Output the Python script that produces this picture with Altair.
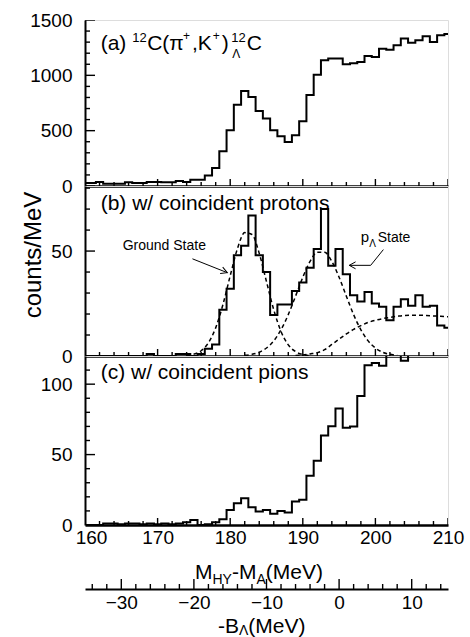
import math
import altair as alt
import pandas as pd

FONT = "Liberation Sans"
W = 363
HA, HB, HC = 166, 170, 169
X0 = 84.3
TOP_A, TOP_B, TOP_C = 18, 184, 354

# ---------------- data ----------------
M = list(range(160, 211))  # bin centres, 1 MeV bins

COUNTS_INCL = [27, 27, 36, 21, 21, 21, 33, 27, 27, 36,
               36, 33, 33, 45, 36, 57, 57, 96, 163, 313,
               503, 735, 859, 805, 678, 609, 503, 449, 398, 458,
               585, 823, 1006, 1136, 1151, 1151, 1100, 1109, 1121, 1175,
               1166, 1241, 1232, 1272, 1332, 1295, 1317, 1353, 1302, 1362,
               1374]

COUNTS_PROTON = [0, 0, 0, 0, 0, 0, 0, 0, 0, 1,
                 0, 0, 0, 1, 1, 0, 1, 3.5, 5.5, 22,
                 32, 48, 52.5, 67, 48, 40, 19.5, 24.5, 24.5, 31,
                 35, 42, 51, 70, 43, 51, 39, 29, 26, 30.5,
                 25, 23.5, 17, 23.5, 27, 24, 29, 23.5, 24, 14.5,
                 13.5]

COUNTS_PION = [0, 0, 0, 1, 1, 0.5, 1, 1, 0.5, 1,
               0.5, 1, 0.5, 1, 2, 3.5, 0, 0.5, 2, 4,
               10.7, 15.4, 19, 12.6, 9.5, 10.7, 7.9, 10, 8.8, 16.6,
               17.9, 35, 45.7, 63.6, 70.2, 82.7, 69, 70, 91.6, 113.5,
               115, 113, 123, 122, 116.6, 125, 127, 128, 130, 132,
               134]

GS_M = list(range(174, 192))
GS_FIT = [0.3, 0.9, 2.5, 6.3, 13.4, 24.5, 38.2, 51.2, 58.8, 57.9,
          48.9, 35.4, 22.0, 11.7, 5.3, 2.1, 0.7, 0.2]
PL_M = list(range(182, 204))
PL_FIT = [0.3, 0.8, 1.8, 3.8, 7.2, 12.5, 19.7, 28.5, 37.5, 45.1,
          49.4, 49.4, 45.1, 37.5, 28.5, 19.7, 12.5, 7.2, 3.8, 1.8, 0.8, 0.3]
BG_M = list(range(189, 211))
BG_FIT = [0.2, 0.5, 1.0, 1.6, 3.0, 5.5, 8.0, 10.5, 12.7, 14.5, 16.0,
          17.0, 17.8, 18.4, 18.9, 19.3, 19.4, 19.4, 19.3, 19.1, 18.9, 18.7]

GS_ARROW_M = [174.8, 179.6]
GS_ARROW_C = [46.3, 39.7]
PL_ARROW_M = [201.1, 199.35, 196.4]
PL_ARROW_C = [50.7, 43.2, 43.2]

X_MAJOR = [160, 170, 180, 190, 200, 210]
X_MINOR = [v for v in range(162, 210, 2) if v % 10 != 0]
A_LABELS = [0, 500, 1000, 1500]
A_MINOR = [v for v in range(100, 1500, 100) if v % 500 != 0]
B_LABELS = [0, 50]
B_MINOR = [10, 20, 30, 40, 60, 70, 80]
C_LABELS = [0, 50, 100]
C_MINOR = [10, 20, 30, 40, 60, 70, 80, 90, 110]
SEC_MAJOR = [-30, -20, -10, 0, 10]
SEC_MINOR = [v for v in range(-34, 15, 2) if v % 10 != 0]

# ---------------- helpers ----------------
WID = {' ': 278, '(': 333, ')': 333, '+': 584, ',': 278, '-': 333, '/': 278,
       'A': 667, 'B': 667, 'C': 722, 'G': 778, 'H': 722, 'K': 667, 'M': 833,
       'S': 667, 'V': 667, 'Y': 667, 'a': 556, 'b': 556, 'c': 500, 'd': 556,
       'e': 556, 'i': 222, 'n': 556, 'o': 556, 'p': 556, 'r': 333, 's': 500,
       't': 278, 'u': 556, 'w': 722, 'π': 578, 'Λ': 667}


def width(s, size):
    return sum(WID.get(ch, 556) for ch in s) * size / 1000.0


def txt(s, x, y, size, angle=0, align="left", baseline="alphabetic"):
    return alt.Chart(pd.DataFrame({"t": [s]})).mark_text(
        align=align, baseline=baseline, fontSize=size, font=FONT,
        color="black", angle=angle
    ).encode(x=alt.value(x), y=alt.value(y), text="t:N")


def rich(pieces, x, y, gap=0.0):
    out = []
    for s, size, dy in pieces:
        out.append(txt(s, x, y + dy, size))
        x += width(s, size) + gap
    return out


XMIN, XMAX = 160, 210
XSCALE = alt.Scale(domain=[XMIN, XMAX], nice=False, zero=False)


def yaxis(vals):
    return alt.Axis(values=vals, format="d", labelFontSize=19, labelFont=FONT,
                    labelColor="black", ticks=False, domain=True,
                    domainColor="black", domainWidth=2, labelPadding=13,
                    grid=False, title=None)


hidden_x = alt.Axis(labels=False, ticks=False, domain=True, domainColor="black",
                    domainWidth=2.5, grid=False, title=None)
shown_x = alt.Axis(values=X_MAJOR, labelFontSize=19, labelFont=FONT,
                   labelColor="black", ticks=False, domain=True,
                   domainColor="black", domainWidth=2.5, labelPadding=3,
                   labelFlush=False,
                   labelOffset={"condition": {"test": "datum.value === 160", "value": 6},
                                "value": 0},
                   grid=False, title=None)


class Panel:
    def __init__(self, ymax, H, yvals, xax):
        self.ymax = ymax
        self.H = H
        self.ysc = alt.Scale(domain=[0, ymax], nice=False, zero=False)
        self.yax = yaxis(yvals)
        self.xax = xax

    def X(self, f="m"):
        return alt.X(f + ":Q", scale=XSCALE, axis=self.xax)

    def Y(self, f="c"):
        return alt.Y(f + ":Q", scale=self.ysc, axis=self.yax)

    def hist(self, values, ymajor, yminor):
        # histogram steps + inward frame ticks (short segments, lengths in px)
        rows = [{"m": m, "c": v, "s": "hist", "w": 2.0} for m, v in zip(M, values)]
        k = 0
        for vals, length in ((X_MAJOR, 7), (X_MINOR, 4)):
            for v in vals:
                rows.append({"m": v, "c": 0, "s": "t%d" % k, "w": 1.4})
                rows.append({"m": v, "c": length * self.ymax / self.H,
                             "s": "t%d" % k, "w": 1.4})
                k += 1
        for vals, length in ((ymajor, 10), (yminor, 5)):
            for v in vals:
                rows.append({"m": XMIN, "c": v, "s": "t%d" % k, "w": 1.4})
                rows.append({"m": XMIN + length * (XMAX - XMIN) / W, "c": v,
                             "s": "t%d" % k, "w": 1.4})
                k += 1
        df = pd.DataFrame(rows)
        return alt.Chart(df).mark_line(
            interpolate="step", color="black", clip=True
        ).encode(x=self.X(), y=self.Y(), detail="s:N",
                 strokeWidth=alt.StrokeWidth("w:Q", scale=None, legend=None))


# ---------------- panel (a) ----------------
pa = Panel(1500, HA, A_LABELS, hidden_x)
ya = TOP_A
a_txt = []
cur = 100 - X0
a_txt.append(txt("(a)", cur, 48 - ya, 21)); cur += width("(a) ", 21)
a_txt.append(txt("12", cur, 40 - ya, 13)); cur += width("12", 13) + 0.5
a_txt.append(txt("C(π", cur, 48 - ya, 21)); cur += width("C(π", 21) + 1.5
a_txt.append(txt("+", cur, 38 - ya, 12)); cur += width("+", 12) + 2
a_txt.append(txt(",K", cur, 48 - ya, 21)); cur += width(",K", 21) + 1
a_txt.append(txt("+", cur, 38 - ya, 12)); cur += width("+", 12) + 2
a_txt.append(txt(")", cur, 48 - ya, 21)); cur += width(")", 21) + 2.5
a_txt.append(txt("12", cur, 40 - ya, 13))
a_txt.append(txt("Λ", cur + 1, 56 - ya, 12)); cur += width("12", 13) + 1
a_txt.append(txt("C", cur, 48 - ya, 21))

panel_a = alt.layer(
    pa.hist(COUNTS_INCL, A_LABELS, A_MINOR),
    *a_txt,
).properties(width=W, height=HA)

# ---------------- panel (b) ----------------
pb = Panel(81, HB, B_LABELS, hidden_x)
fits = pd.DataFrame({
    "m": GS_M + PL_M + BG_M,
    "c": GS_FIT + PL_FIT + BG_FIT,
    "k": ["gs"] * len(GS_M) + ["pl"] * len(PL_M) + ["bg"] * len(BG_M),
})
dashed = alt.Chart(fits).mark_line(
    interpolate="monotone", color="black", strokeWidth=1.5,
    strokeDash=[4, 3], clip=True
).encode(x=pb.X(), y=pb.Y(), detail="k:N")

sx = W / 50.0
sy = HB / 81.0
gs_line = alt.Chart(pd.DataFrame({"m": GS_ARROW_M, "c": GS_ARROW_C})).mark_line(
    color="black", strokeWidth=1
).encode(x=pb.X(), y=pb.Y())
gs_ang = math.degrees(math.atan2(-(GS_ARROW_C[1] - GS_ARROW_C[0]) * sy,
                                 (GS_ARROW_M[1] - GS_ARROW_M[0]) * sx))
HEAD = "M-1,-0.55L0,0L-1,0.55"
gs_head = alt.Chart(pd.DataFrame({"m": [GS_ARROW_M[1]], "c": [GS_ARROW_C[1]]})).mark_point(
    shape=HEAD, filled=False, color="black", strokeWidth=1, size=160,
    angle=round(gs_ang, 1), opacity=1
).encode(x=pb.X(), y=pb.Y())

pl_line = alt.Chart(pd.DataFrame({"m": PL_ARROW_M, "c": PL_ARROW_C,
                                  "i": list(range(len(PL_ARROW_M)))})).mark_line(
    color="black", strokeWidth=1
).encode(x=pb.X(), y=pb.Y(), order="i:O")
pl_head = alt.Chart(pd.DataFrame({"m": [PL_ARROW_M[-1]], "c": [PL_ARROW_C[-1]]})).mark_point(
    shape=HEAD, filled=False, color="black", strokeWidth=1, size=160,
    angle=180, opacity=1
).encode(x=pb.X(), y=pb.Y())

yb = TOP_B
b_txt = [
    txt("(b) w/ coincident protons", 100 - X0, 208 - yb, 21),
    txt("Ground State", 122 - X0, 247.5 - yb, 14),
    txt("counts/MeV", 33 - X0, 253 - yb, 24, angle=270, align="center",
        baseline="middle"),
    txt("p", 360 - X0, 240 - yb, 15),
    txt("Λ", 368.5 - X0, 245 - yb, 10),
    txt("State", 377 - X0, 240 - yb, 14),
]

panel_b = alt.layer(
    pb.hist(COUNTS_PROTON, B_LABELS, B_MINOR),
    dashed, gs_line, gs_head, pl_line, pl_head,
    *b_txt,
).properties(width=W, height=HB)

# ---------------- panel (c) ----------------
pc = Panel(120, HC, C_LABELS, shown_x)
yc = TOP_C
c_txt = [txt("(c) w/ coincident pions", 100 - X0, 377 - yc, 21)]
c_txt += rich([("M", 21, 0), ("HY", 14, 5), ("-M", 21, 0), ("A", 14, 5),
               ("(MeV)", 21, 0)], 110, 577 - yc)
c_txt += rich([("-B", 21, 0), ("Λ", 14, 2.5), ("(MeV)", 21, 0)], 133, 630.5 - yc)

main_c = alt.layer(
    pc.hist(COUNTS_PION, C_LABELS, C_MINOR),
    *c_txt,
)

SEC_OFF = 64
sec_axis = alt.Axis(orient="bottom", offset=SEC_OFF, values=SEC_MAJOR,
                    labelFontSize=19, labelFont=FONT, labelColor="black",
                    ticks=False, domain=True, domainColor="black",
                    domainWidth=2, labelPadding=4, labelFlush=False,
                    grid=False, title=None)
sec_scale = alt.Scale(domain=[-35, 15], nice=False, zero=False)
upc = 120.0 / HC  # counts per pixel in panel (c)

sec_rows = []
k = 0
for vals, length in ((SEC_MAJOR, 10), (SEC_MINOR, 5)):
    for v in vals:
        sec_rows.append({"b": v, "c": -SEC_OFF * upc, "id": k})
        sec_rows.append({"b": v, "c": -(SEC_OFF - length) * upc, "id": k})
        k += 1
sec = alt.Chart(pd.DataFrame(sec_rows)).mark_line(
    color="black", strokeWidth=1.4
).encode(
    x=alt.X("b:Q", scale=sec_scale, axis=sec_axis),
    y=pc.Y(), detail="id:N",
)

panel_c = alt.layer(main_c, sec).resolve_scale(x="independent").properties(
    width=W, height=HC)

chart = alt.vconcat(panel_a, panel_b, panel_c, spacing=0, bounds="flush").resolve_scale(
    x="independent", y="independent"
).properties(
    padding={"left": 21, "top": 10, "right": 5, "bottom": 0},
    background="white",
).configure_view(
    stroke="black", strokeWidth=1.5
).configure(font=FONT)

chart.save("out.html", embed_options={"renderer": "svg", "actions": False})
